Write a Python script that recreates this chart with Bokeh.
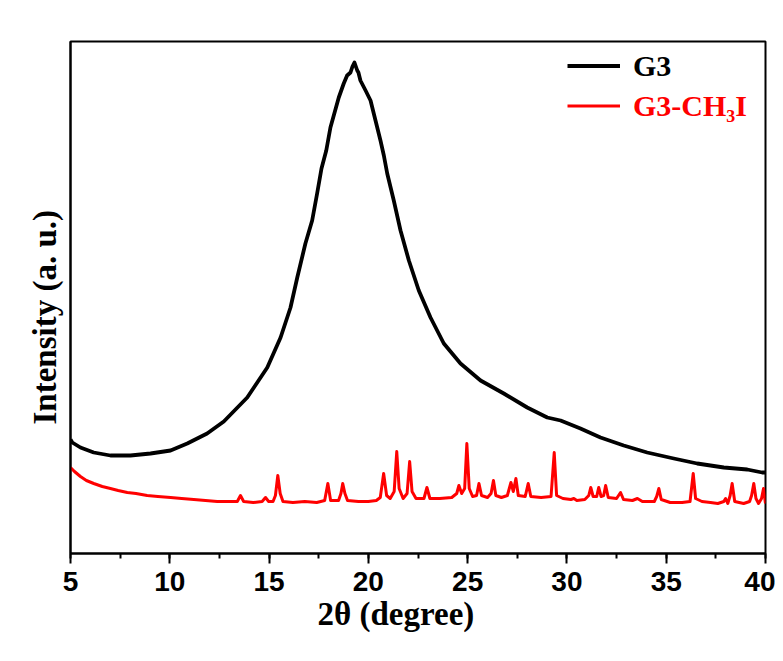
from bokeh.plotting import figure
from bokeh.models import Range1d, SingleIntervalTicker, FixedTicker, Legend, LegendItem, Title
from bokeh.embed import file_html
from bokeh.resources import INLINE

# ---- data ----
g3_x = [5.00, 5.09, 5.50, 6.17, 7.01, 8.02, 9.03, 10.04, 10.88, 11.88, 12.72, 13.90,
        14.91, 15.58, 16.08, 16.42, 16.83, 17.17, 17.42, 17.64, 17.88, 18.09, 18.51,
        18.76, 18.93, 19.10, 19.20, 19.30, 19.44, 19.50, 19.60, 19.86, 20.11, 20.36,
        20.61, 20.78, 20.95, 21.28, 21.62, 22.04, 22.54, 23.13, 23.80, 24.64, 25.65,
        26.82, 28.00, 29.01, 29.68, 30.68, 31.69, 32.86, 34.04, 35.38, 36.56, 37.90,
        39.08, 39.83, 40.00]
g3_y = [114, 111, 106, 101, 98, 98, 100, 103, 110, 120, 132, 156,
        186, 216, 246, 276, 310, 333, 360, 385, 403, 426, 456,
        470, 478, 481, 487, 491, 483, 481, 473, 463, 453, 433,
        413, 398, 380, 353, 323, 293, 263, 236, 210, 190, 173,
        160, 146, 136, 133, 125, 116, 108, 101, 95, 90, 86,
        84, 81, 81]

ch3i_x = [5.00, 5.20, 5.50, 5.80, 6.17, 6.60, 7.01, 7.40, 7.86, 8.30, 8.86, 9.40,
          10.04, 10.60, 11.21, 11.80, 12.39, 13.00, 13.40, 13.56, 13.72, 14.20, 14.65,
          14.82, 14.98, 15.20, 15.32, 15.44, 15.56, 15.70, 16.20, 16.80, 17.40, 17.80,
          17.96, 18.10, 18.50, 18.62, 18.71, 18.82, 18.95, 19.50, 20.00, 20.40, 20.60,
          20.77, 20.92, 21.10, 21.30, 21.43, 21.55, 21.75, 21.95, 22.08, 22.20, 22.40,
          22.80, 22.95, 23.10, 23.60, 24.20, 24.45, 24.56, 24.70, 24.85, 24.96, 25.08,
          25.25, 25.45, 25.57, 25.70, 26.00, 26.18, 26.30, 26.42, 26.70, 27.00, 27.18,
          27.30, 27.43, 27.55, 27.90, 28.05, 28.18, 28.70, 29.20, 29.36, 29.48, 29.80,
          30.20, 30.35, 30.50, 30.90, 31.10, 31.20, 31.32, 31.50, 31.60, 31.72, 31.85,
          31.95, 32.08, 32.50, 32.70, 32.85, 33.30, 33.55, 33.80, 34.40, 34.52, 34.63,
          34.75, 35.20, 35.80, 36.20, 36.36, 36.48, 36.80, 37.23, 37.60, 37.90, 37.99,
          38.10, 38.22, 38.32, 38.45, 38.90, 39.20, 39.30, 39.41, 39.52, 39.65, 39.80,
          39.90, 40.00]
ch3i_y = [86, 82, 77, 73, 70, 67, 65, 63, 61, 60, 58, 57,
          56, 55, 54, 53, 52, 52, 52, 58, 52, 51, 52,
          56, 52, 52, 58, 78, 60, 52, 51, 52, 51, 53,
          70, 53, 53, 60, 70, 60, 53, 52, 52, 53, 56,
          80, 58, 55, 62, 102, 65, 55, 60, 92, 62, 55,
          55, 66, 55, 55, 56, 60, 68, 60, 65, 110, 65,
          57, 58, 70, 58, 56, 60, 73, 58, 56, 58, 71,
          62, 75, 58, 57, 70, 57, 56, 57, 101, 58, 55,
          54, 55, 53, 54, 58, 66, 57, 57, 66, 57, 58,
          68, 56, 55, 61, 54, 53, 55, 52, 52, 57, 65,
          54, 51, 51, 52, 80, 55, 52, 51, 50, 52, 55,
          50, 58, 70, 52, 50, 52, 58, 70, 55, 50, 55,
          65, 50]

x_ticks_interval = 5
x_min, x_max = 5, 40
y_min, y_max = 0, 512
series_names = ["G3", "G3-CH\u2083I"]
series_colors = ["black", "#ff0000"]

# ---- figure ----
p = figure(width=775, height=653, output_backend="svg", toolbar_location=None,
           x_range=Range1d(x_min, x_max), y_range=Range1d(y_min, y_max),
           min_border_left=70, min_border_top=41, min_border_right=10, min_border_bottom=100)
p.background_fill_color = "white"
p.border_fill_color = "white"
p.xgrid.visible = False
p.ygrid.visible = False
p.outline_line_color = "black"
p.outline_line_width = 2

r1 = p.line(g3_x, g3_y, line_color=series_colors[0], line_width=3.8, line_join="round")
r2 = p.line(ch3i_x, ch3i_y, line_color=series_colors[1], line_width=3, line_join="round")

# x axis
xa = p.xaxis[0]
xa.ticker = SingleIntervalTicker(interval=x_ticks_interval, num_minor_ticks=2)
xa.axis_line_width = 2
xa.major_tick_line_width = 2
xa.minor_tick_line_width = 2
xa.major_tick_out = 10
xa.major_tick_in = 0
xa.minor_tick_out = 5
xa.minor_tick_in = 0
xa.major_label_text_font = "Liberation Sans"
xa.major_label_text_font_style = "bold"
xa.major_label_text_font_size = "28px"
xa.major_label_text_color = "black"
xa.major_label_standoff = 8

# y axis: no ticks
ya = p.yaxis[0]
ya.ticker = FixedTicker(ticks=[])
ya.axis_line_width = 2
ya.major_tick_line_color = None
ya.minor_tick_line_color = None
ya.major_tick_out = 8
ya.major_tick_in = 0
ya.major_label_text_font_size = "0px"

# axis titles
tx = Title(text="2\u03b8 (degree)", align="left", offset=247,
           text_font="Liberation Serif", text_font_style="bold", text_font_size="33px",
           text_color="black", standoff=0)
p.add_layout(tx, "below")
ty = Title(text="Intensity (a. u.)", align="left", offset=129,
           text_font="Liberation Serif", text_font_style="bold", text_font_size="33px",
           text_color="black", standoff=15)
p.add_layout(ty, "left")

# legends (one per series so each label keeps its own colour)
common = dict(orientation="vertical", padding=0, margin=0, spacing=0,
              glyph_width=53, glyph_height=35, label_standoff=13,
              border_line_color=None, background_fill_alpha=0,
              label_text_font="Liberation Serif", label_text_font_style="bold",
              label_text_font_size="30px")
leg1 = Legend(items=[LegendItem(label=series_names[0], renderers=[r1])],
              location=(497, 470), label_text_color=series_colors[0], **common)
leg2 = Legend(items=[LegendItem(label=series_names[1], renderers=[r2])],
              location=(497, 430), label_text_color=series_colors[1], **common)
p.add_layout(leg1)
p.add_layout(leg2)

open("out.html", "w").write(file_html(p, INLINE))
